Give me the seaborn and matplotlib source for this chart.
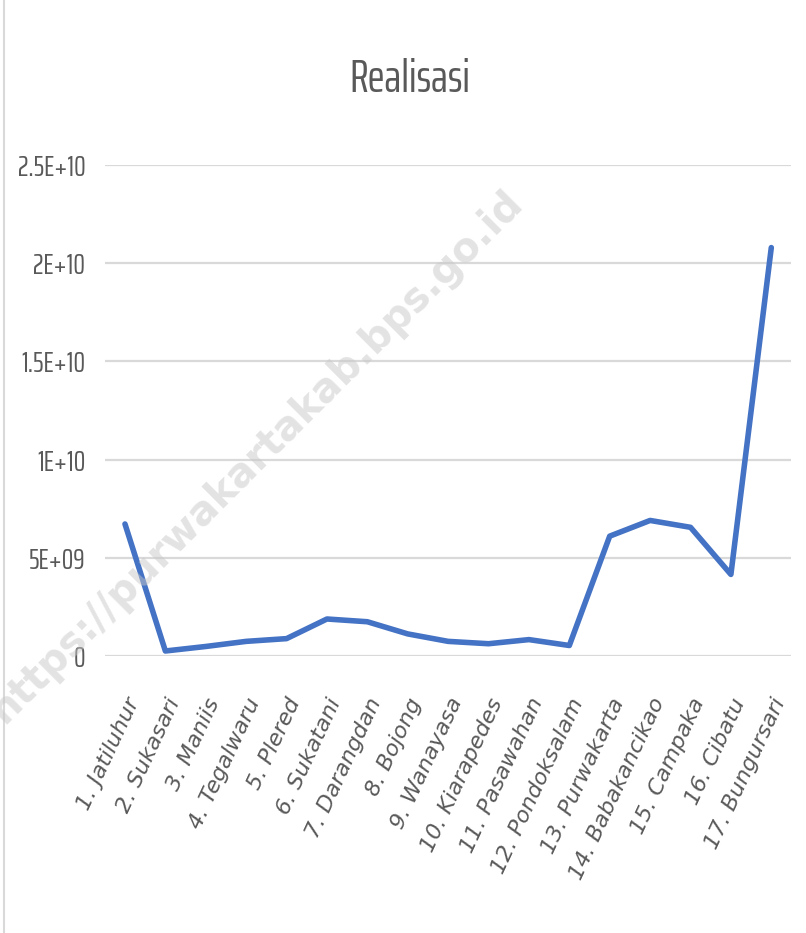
import matplotlib
matplotlib.use("Agg")
import matplotlib.pyplot as plt
from matplotlib.lines import Line2D
import seaborn as sns
import pandas as pd
from matplotlib import font_manager

categories = ["1. Jatiluhur", "2. Sukasari", "3. Maniis", "4. Tegalwaru", "5. Plered",
              "6. Sukatani", "7. Darangdan", "8. Bojong", "9. Wanayasa", "10. Kiarapedes",
              "11. Pasawahan", "12. Pondoksalam", "13. Purwakarta", "14. Babakancikao",
              "15. Campaka", "16. Cibatu", "17. Bungursari"]
realisasi = [6.72e9, 0.25e9, 0.48e9, 0.74e9, 0.88e9, 1.88e9, 1.74e9, 1.12e9, 0.74e9,
             0.62e9, 0.83e9, 0.53e9, 6.1e9, 6.9e9, 6.55e9, 4.15e9, 20.8e9]
yticks = [0, 5e9, 1e10, 1.5e10, 2e10, 2.5e10]
ytick_labels = ["0", "5E+09", "1E+10", "1.5E+10", "2E+10", "2.5E+10"]

sns.set_theme(style="white")
names = {f.name for f in font_manager.fontManager.ttflist}


def pick(cands, default="DejaVu Sans"):
    for c in cands:
        if c in names:
            return c
    return default


narrow = pick(["Saira Extra Condensed", "Saira ExtraCondensed", "Yanone Kaffeesatz",
               "Pathway Gothic One", "Open Sans Condensed", "Roboto Condensed",
               "Barlow Condensed", "Oswald", "Abel"])
plt.rcParams["font.family"] = ["DejaVu Sans"]

df = pd.DataFrame({"x": list(range(len(categories))), "v": realisasi})

fig = plt.figure(figsize=(8.06, 9.33), dpi=100)
fig.add_artist(Line2D([4 / 806, 4 / 806], [0, 1], transform=fig.transFigure,
                      color="#d9d9d9", lw=1.5))
ax = fig.add_axes([0.130, 0.297, 0.852, 0.526])

for t in yticks:
    ax.axhline(t, color="#d9d9d9", lw=1.6, zorder=1)

sns.lineplot(data=df, x="x", y="v", ax=ax, color="#4472C4", lw=4.0, zorder=3,
             solid_joinstyle="round", solid_capstyle="round")

ax.set_xlim(-0.5, len(categories) - 0.5)
ax.set_ylim(0, 2.5e10)
ax.set_yticks(yticks)
ax.set_yticklabels(ytick_labels, fontfamily=narrow, fontsize=21, color="#595959",
                   fontweight="normal")
ax.set_xticks(range(len(categories)))
ax.set_xticklabels(categories, rotation=65, ha="right", rotation_mode="anchor",
                   fontsize=16, style="italic", fontstretch="normal",
                   color="#595959", fontfamily=["DejaVu Sans"])
ax.tick_params(axis="x", length=0, pad=28)
ax.tick_params(axis="y", length=0, pad=14)
ax.set_xlabel("")
ax.set_ylabel("")
for s in ax.spines.values():
    s.set_visible(False)
ax.set_facecolor("none")

fig.text(0.508, 0.915, "Realisasi", ha="center", va="center", fontsize=33,
         fontfamily=narrow, fontweight="normal", color="#595959")

fig.text(0.318, 0.51, "https://purwakartakab.bps.go.id", rotation=45, ha="center",
         va="center", fontsize=29, fontweight="bold", color="#c8c8c8", alpha=0.5,
         zorder=5, family=["DejaVu Sans"])

fig.savefig("out.png", dpi=100)
